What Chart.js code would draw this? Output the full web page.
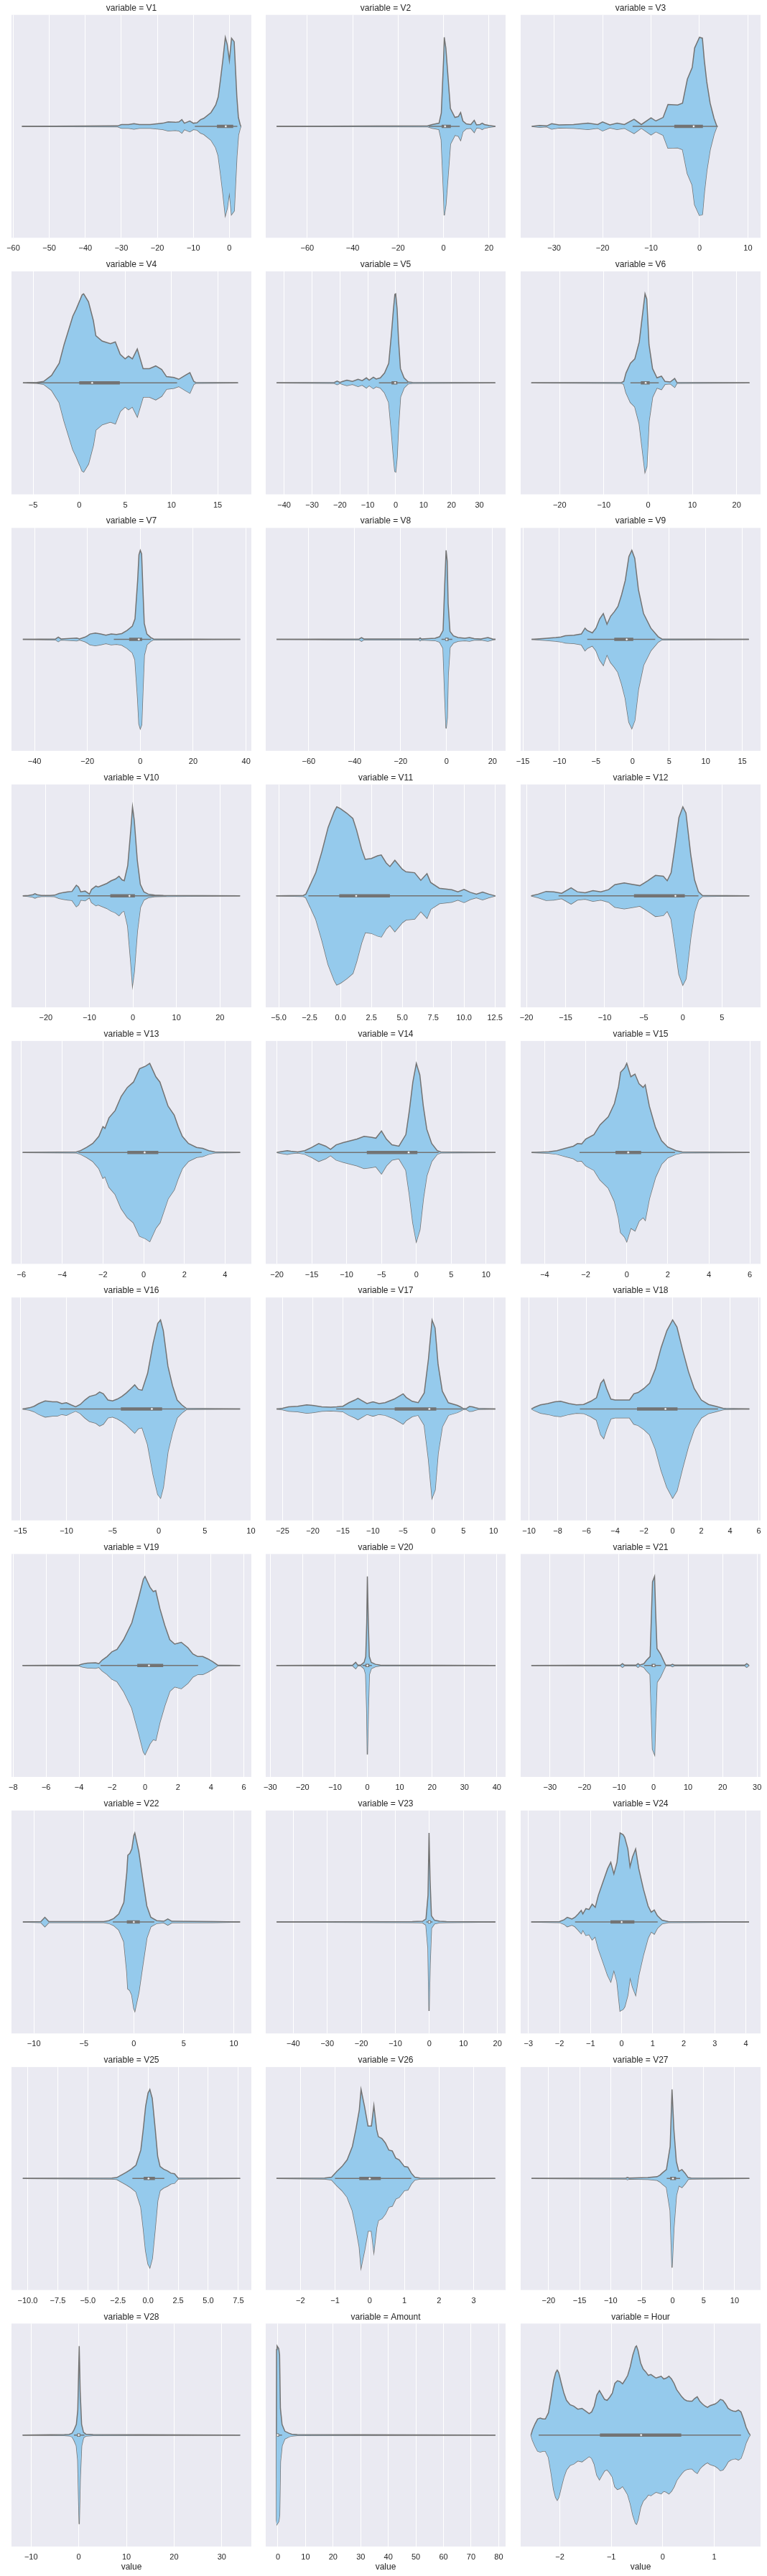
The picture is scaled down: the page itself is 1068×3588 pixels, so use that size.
<!DOCTYPE html>
<html>
<head>
<meta charset="utf-8">
<script src="https://cdn.jsdelivr.net/npm/chart.js@4.4.1/dist/chart.umd.min.js"></script>
<style>
  body { margin: 0; background: #ffffff; width: 1068px; height: 3588px; position: relative; overflow: hidden; }
  canvas { position: absolute; }
</style>
</head>
<body>
<script>
// facet names, one violin per panel
var variables = ["V1", "V2", "V3", "V4", "V5", "V6", "V7", "V8", "V9", "V10",
  "V11", "V12", "V13", "V14", "V15", "V16", "V17", "V18", "V19", "V20",
  "V21", "V22", "V23", "V24", "V25", "V26", "V27", "V28", "Amount", "Hour"];

// x limits of each panel
var axisMin = [-60.5, -78.3, -36.9, -7.34, -46.6, -28.8, -48.7, -78.7, -15.3, -27.9,
  -6.05, -20.75, -6.49, -21.6, -5.17, -15.95, -27.8, -10.58, -8.1, -31.4,
  -38.5, -12.24, -48.1, -3.25, -11.34, -3.0, -24.5, -14.1, -4.42, -2.76];
var axisMax = [6.1, 27.3, 12.6, 18.65, 39.4, 25.4, 42.0, 25.7, 17.5, 27.2,
  13.36, 9.94, 5.29, 12.8, 6.52, 10.04, 12.0, 6.12, 6.45, 42.7,
  31.0, 11.76, 22.4, 4.47, 8.58, 3.92, 14.17, 36.2, 82.5, 1.9];

// tick values of each panel
var tickValues = [
  [-60, -50, -40, -30, -20, -10, 0],
  [-60, -40, -20, 0, 20],
  [-30, -20, -10, 0, 10],
  [-5, 0, 5, 10, 15],
  [-40, -30, -20, -10, 0, 10, 20, 30],
  [-20, -10, 0, 10, 20],
  [-40, -20, 0, 20, 40],
  [-60, -40, -20, 0, 20],
  [-15, -10, -5, 0, 5, 10, 15],
  [-20, -10, 0, 10, 20],
  [-5, -2.5, 0, 2.5, 5, 7.5, 10, 12.5],
  [-20, -15, -10, -5, 0, 5],
  [-6, -4, -2, 0, 2, 4],
  [-20, -15, -10, -5, 0, 5, 10],
  [-4, -2, 0, 2, 4, 6],
  [-15, -10, -5, 0, 5, 10],
  [-25, -20, -15, -10, -5, 0, 5, 10],
  [-10, -8, -6, -4, -2, 0, 2, 4, 6],
  [-8, -6, -4, -2, 0, 2, 4, 6],
  [-30, -20, -10, 0, 10, 20, 30, 40],
  [-30, -20, -10, 0, 10, 20, 30],
  [-10, -5, 0, 5, 10],
  [-40, -30, -20, -10, 0, 10, 20],
  [-3, -2, -1, 0, 1, 2, 3, 4],
  [-10, -7.5, -5, -2.5, 0, 2.5, 5, 7.5],
  [-2, -1, 0, 1, 2, 3],
  [-20, -15, -10, -5, 0, 5, 10],
  [-10, 0, 10, 20, 30],
  [0, 10, 20, 30, 40, 50, 60, 70, 80],
  [-2, -1, 0, 1]
];

// inner box: whiskers, quartiles, median
var whiskerLow = [-9.6, -6.5, -13.8, -5.7, -6, -4, -10, -2.2, -6.2, -12.7,
  -2.6, -15.9, -3.2, -16, -2.3, -10.7, -16.1, -6.46, -2.7, -1.5,
  -2.7, -2.1, -0.9, -1.5, -1.3, -1.0, -0.95, -1, -0.55, -2.41];
var quartile1 = [-3.45, -0.85, -5.2, 0, -1.5, -1.65, -4.2, -0.6, -2.5, -5.2,
  -0.1, -6.25, -0.8, -7.1, -0.55, -4.1, -6.4, -2.48, -0.47, -0.6,
  -0.55, -0.7, -0.4, -0.36, -0.36, -0.3, -0.4, -0.35, -0.3, -1.22];
var medians = [-1.0, 0.65, -1.2, 1.4, -0.2, -0.55, -0.55, 0.05, -0.8, -0.8,
  1.27, -0.95, 0.05, -1.1, 0.07, -0.74, -0.65, -0.5, 0.24, 0,
  0.05, 0, 0, 0, 0.04, 0, 0.05, 0, -0.1, -0.42];
var quartile3 = [1.06, 3.2, 0.7, 4.4, 0.6, 0.35, 0.7, 0.9, 0.1, 0.45,
  4.0, 0.25, 0.72, 0.15, 0.7, 0.37, 0.5, 0.34, 1.1, 0.6,
  0.55, 0.6, 0.4, 0.41, 0.57, 0.32, 0.55, 0.35, 0.4, 0.36];
var whiskerHigh = [2.2, 7.1, 3.8, 10.6, 4.4, 2.4, 4, 2.5, 3.1, 7.7,
  9.85, 2.0, 2.85, 3.2, 2.35, 2.85, 4.8, 3.16, 3.22, 1.4,
  2.2, 2.05, 0.9, 1.16, 1.35, 1.2, 1.2, 1.2, 1.5, 1.52];

// violin half-widths [value, width relative to the widest point]
var densityV1 = [[-57.6, 0], [-31, 0.005], [-30, 0.02], [-28, 0.02], [-26.5, 0.03], [-25, 0.02], [-22, 0.02], [-18.5, 0.035], [-17, 0.05], [-15, 0.045], [-14, 0.05], [-13.2, 0.075], [-12.5, 0.035], [-11, 0.06], [-10, 0.035], [-9, 0.04], [-8, 0.075], [-7.1, 0.09], [-5.1, 0.155], [-3.8, 0.24], [-3.1, 0.33], [-2.46, 0.53], [-1.8, 0.75], [-1.13, 1.0], [-0.6, 0.92], [0, 0.74], [0.6, 0.99], [1.33, 0.95], [2.06, 0.34], [2.5, 0.1], [3.0, 0.02], [3.2, 0]];
var densityV2 = [[-73.5, 0], [-7, 0.005], [-5, 0.02], [-2, 0.035], [-1, 0.15], [0, 0.75], [0.3, 1.0], [1, 0.88], [2.5, 0.37], [3, 0.2], [5, 0.1], [6.5, 0.11], [7.5, 0.155], [8.5, 0.06], [10, 0.027], [12, 0.02], [13.5, 0.067], [14.5, 0.016], [16, 0.02], [17, 0.035], [18, 0.02], [20, 0.01], [22.8, 0]];
var densityV3 = [[-34.6, 0], [-33, 0.01], [-31.5, 0.005], [-30.5, 0.03], [-29, 0.016], [-26, 0.02], [-23, 0.035], [-21, 0.02], [-20, 0.05], [-18.5, 0.016], [-17, 0.035], [-15.5, 0.02], [-13.5, 0.08], [-12, 0.02], [-10, 0.095], [-9, 0.06], [-7.5, 0.1], [-6.5, 0.245], [-4.5, 0.24], [-3.5, 0.26], [-2.5, 0.53], [-1.5, 0.66], [-1, 0.88], [0, 1.0], [0.6, 0.99], [1, 0.74], [1.5, 0.5], [2.2, 0.26], [3, 0.09], [3.6, 0]];
var densityV4 = [[-6.1, 0], [-4.6, 0.005], [-3.86, 0.016], [-3.0, 0.083], [-2.17, 0.22], [-1.64, 0.43], [-0.69, 0.75], [-0.32, 0.83], [0.32, 0.99], [0.48, 1.0], [1.0, 0.91], [1.53, 0.7], [1.8, 0.53], [2.48, 0.47], [3.38, 0.44], [3.91, 0.46], [4.44, 0.32], [4.97, 0.27], [5.34, 0.3], [5.76, 0.27], [6.29, 0.38], [6.92, 0.16], [7.61, 0.16], [8.29, 0.19], [8.93, 0.15], [9.46, 0.07], [10.25, 0.06], [10.78, 0.04], [11.57, 0.09], [11.99, 0.115], [12.41, 0.016], [12.62, 0.005], [17.2, 0]];
var densityV5 = [[-42.7, 0], [-22, 0.005], [-21, 0.02], [-20, 0.005], [-19, 0.016], [-17.5, 0.03], [-15.5, 0.016], [-13.5, 0.04], [-12, 0.025], [-10.5, 0.056], [-9.5, 0.03], [-8, 0.064], [-7, 0.043], [-5.5, 0.056], [-4, 0.11], [-2.5, 0.22], [-1.5, 0.56], [-0.8, 0.83], [-0.3, 0.995], [0, 1.0], [0.5, 0.83], [1, 0.49], [1.7, 0.16], [3, 0.056], [4.5, 0.01], [6, 0.005], [35.7, 0]];
var densityV6 = [[-26.4, 0], [-6, 0.005], [-5.5, 0.016], [-5, 0.11], [-4, 0.22], [-3, 0.27], [-2, 0.46], [-1.5, 0.67], [-0.7, 1.0], [-0.3, 0.94], [0.2, 0.43], [1, 0.16], [2, 0.056], [3, 0.075], [3.8, 0.016], [5, 0.01], [6, 0.05], [6.5, 0.005], [22.9, 0]];
var densityV7 = [[-44.4, 0], [-32, 0.005], [-31, 0.025], [-30, 0.005], [-24, 0.015], [-23, 0.005], [-21, 0.024], [-20, 0.04], [-19, 0.06], [-17, 0.07], [-15, 0.06], [-13, 0.046], [-11, 0.06], [-9, 0.054], [-7, 0.065], [-5, 0.1], [-3, 0.15], [-2, 0.23], [-1, 0.66], [-0.5, 0.95], [0, 1.0], [0.5, 0.96], [1, 0.56], [1.5, 0.18], [2.5, 0.06], [4, 0.02], [5, 0.005], [37.8, 0]];
var densityV8 = [[-74, 0], [-38, 0.005], [-37, 0.02], [-36, 0.005], [-12, 0.005], [-11.5, 0.016], [-11, 0.005], [-5, 0.013], [-3, 0.03], [-1.5, 0.1], [-0.8, 0.61], [-0.2, 1.0], [0.3, 0.88], [0.7, 0.4], [1.5, 0.09], [3, 0.04], [5, 0.02], [8, 0.013], [10, 0.02], [12, 0.008], [15, 0.005], [18, 0.02], [20, 0.005], [21.3, 0]];
var densityV9 = [[-13.8, 0], [-12, 0.01], [-10.5, 0.02], [-9.8, 0.027], [-9.2, 0.04], [-8, 0.046], [-7, 0.06], [-6.5, 0.126], [-6.2, 0.1], [-5.5, 0.073], [-5, 0.126], [-4.5, 0.23], [-4, 0.29], [-3.5, 0.17], [-3, 0.26], [-2.5, 0.31], [-2, 0.37], [-1.5, 0.5], [-1, 0.66], [-0.5, 0.93], [-0.1, 1.0], [0.3, 0.91], [0.8, 0.56], [1.5, 0.29], [2.5, 0.126], [3.5, 0.03], [4, 0.005], [15.9, 0]];
var densityV10 = [[-25.3, 0], [-24, 0.005], [-23, 0.013], [-22.5, 0.024], [-22, 0.013], [-21, 0.005], [-19, 0.005], [-18, 0.008], [-17, 0.027], [-16, 0.038], [-15, 0.046], [-14, 0.05], [-13, 0.12], [-12.5, 0.1], [-12, 0.046], [-11, 0.054], [-10, 0.02], [-9.5, 0.073], [-8.5, 0.11], [-8, 0.1], [-7, 0.12], [-6, 0.14], [-5, 0.17], [-4, 0.19], [-3.2, 0.22], [-2.5, 0.18], [-2, 0.17], [-1.2, 0.34], [-0.5, 0.74], [-0.1, 1.0], [0.3, 0.85], [1, 0.4], [1.7, 0.13], [2.5, 0.046], [3.5, 0.02], [5, 0.008], [7, 0.005], [24.6, 0]];
var densityV11 = [[-5.2, 0], [-3, 0.005], [-2.8, 0.02], [-2, 0.26], [-1.5, 0.5], [-1, 0.77], [-0.5, 0.95], [-0.3, 1.0], [0, 0.98], [0.5, 0.93], [1, 0.87], [1.3, 0.74], [1.7, 0.53], [2, 0.41], [2.5, 0.42], [3, 0.45], [3.3, 0.46], [3.7, 0.37], [4, 0.33], [4.4, 0.4], [5, 0.3], [5.3, 0.27], [6, 0.26], [6.5, 0.175], [7, 0.25], [7.3, 0.15], [8, 0.086], [9, 0.07], [9.5, 0.046], [10, 0.073], [10.5, 0.04], [11, 0.02], [11.5, 0.043], [12, 0.02], [12.53, 0]];
var densityV12 = [[-19.4, 0], [-18.5, 0.02], [-17.5, 0.05], [-16.5, 0.046], [-15.5, 0.03], [-14.3, 0.09], [-13.5, 0.046], [-12.5, 0.035], [-11.5, 0.06], [-10.5, 0.046], [-9.5, 0.07], [-8.7, 0.126], [-7.5, 0.145], [-6.5, 0.13], [-5.5, 0.115], [-4.5, 0.17], [-3.5, 0.23], [-2.5, 0.22], [-2, 0.17], [-1.5, 0.26], [-1, 0.56], [-0.5, 0.88], [0, 1.0], [0.4, 0.93], [1, 0.47], [1.5, 0.18], [2, 0.046], [2.5, 0.005], [8.5, 0]];
var densityV13 = [[-5.94, 0], [-3.3, 0.005], [-3.1, 0.02], [-2.8, 0.056], [-2.5, 0.1], [-2.2, 0.18], [-2, 0.29], [-1.9, 0.27], [-1.7, 0.39], [-1.4, 0.47], [-1.1, 0.63], [-0.8, 0.73], [-0.5, 0.79], [-0.2, 0.94], [0.1, 0.97], [0.3, 1.0], [0.6, 0.85], [0.8, 0.79], [1.2, 0.52], [1.5, 0.42], [1.7, 0.29], [1.9, 0.18], [2.2, 0.1], [2.6, 0.056], [2.9, 0.046], [3.2, 0.02], [3.5, 0.005], [4.74, 0]];
var densityV14 = [[-20, 0], [-19.5, 0.008], [-18.5, 0.02], [-18, 0.013], [-17, 0.005], [-16, 0.02], [-15, 0.056], [-14, 0.1], [-13, 0.07], [-12.3, 0.035], [-11.5, 0.085], [-10.5, 0.11], [-9.5, 0.13], [-8.5, 0.15], [-7.5, 0.18], [-6.5, 0.17], [-5.8, 0.16], [-5, 0.24], [-4.3, 0.15], [-3.5, 0.085], [-2.5, 0.07], [-1.5, 0.2], [-1, 0.47], [-0.5, 0.79], [0, 1.0], [0.5, 0.87], [1, 0.52], [1.5, 0.26], [2.2, 0.1], [3, 0.02], [3.5, 0.005], [11.35, 0]];
var densityV15 = [[-4.64, 0], [-3.8, 0.008], [-3.4, 0.02], [-3, 0.046], [-2.6, 0.07], [-2.4, 0.1], [-2.2, 0.095], [-2, 0.15], [-1.6, 0.2], [-1.3, 0.31], [-0.9, 0.4], [-0.6, 0.55], [-0.4, 0.74], [-0.3, 0.9], [-0.1, 0.95], [0, 1.0], [0.2, 0.85], [0.4, 0.88], [0.6, 0.77], [0.8, 0.73], [0.9, 0.76], [1.1, 0.52], [1.4, 0.28], [1.7, 0.13], [2, 0.06], [2.4, 0.02], [2.7, 0.005], [5.98, 0]];
var densityV16 = [[-14.74, 0], [-14, 0.013], [-13.5, 0.03], [-13, 0.06], [-12.3, 0.09], [-11.5, 0.08], [-11, 0.08], [-10.5, 0.06], [-10, 0.07], [-9.5, 0.046], [-9, 0.024], [-8.5, 0.05], [-8, 0.1], [-7.5, 0.14], [-6.8, 0.16], [-6.4, 0.19], [-6, 0.17], [-5.5, 0.1], [-5, 0.09], [-4.5, 0.11], [-4, 0.14], [-3.5, 0.18], [-3, 0.23], [-2.6, 0.27], [-2.2, 0.22], [-1.8, 0.21], [-1.2, 0.4], [-0.6, 0.74], [-0.1, 0.96], [0.2, 1.0], [0.5, 0.88], [1, 0.48], [1.5, 0.26], [2, 0.1], [2.5, 0.046], [3, 0.005], [8.82, 0]];
var densityV17 = [[-26, 0], [-25, 0.008], [-24, 0.024], [-22.5, 0.03], [-21, 0.046], [-20, 0.04], [-18.5, 0.024], [-17, 0.02], [-16, 0.024], [-15, 0.03], [-14, 0.07], [-13, 0.1], [-12.5, 0.12], [-12, 0.1], [-11, 0.06], [-10, 0.08], [-9, 0.06], [-8, 0.07], [-6.5, 0.11], [-5, 0.17], [-4.5, 0.13], [-3.5, 0.086], [-2.5, 0.07], [-1.5, 0.18], [-0.8, 0.56], [-0.2, 1.0], [0.3, 0.91], [0.8, 0.5], [1.5, 0.2], [2.5, 0.07], [3.5, 0.05], [4, 0.04], [4.5, 0.024], [5, 0.003], [5.5, 0.005], [6, 0.027], [6.5, 0.024], [7, 0.013], [7.5, 0.005], [10.3, 0]];
var densityV18 = [[-9.83, 0], [-9.6, 0.02], [-9.2, 0.046], [-8.7, 0.06], [-8.2, 0.08], [-7.8, 0.086], [-7.2, 0.06], [-6.7, 0.046], [-6.2, 0.05], [-5.7, 0.086], [-5.3, 0.126], [-5, 0.29], [-4.8, 0.33], [-4.6, 0.23], [-4.3, 0.11], [-4, 0.1], [-3.5, 0.1], [-3, 0.1], [-2.7, 0.17], [-2.4, 0.185], [-2, 0.23], [-1.6, 0.29], [-1.2, 0.45], [-0.8, 0.69], [-0.4, 0.88], [0, 1.0], [0.3, 0.92], [0.7, 0.66], [1.1, 0.42], [1.5, 0.23], [2, 0.1], [2.5, 0.05], [3, 0.03], [3.5, 0.008], [3.7, 0.005], [5.34, 0]];
var densityV19 = [[-7.43, 0], [-4, 0.005], [-3.8, 0.016], [-3.5, 0.027], [-3, 0.03], [-2.8, 0.02], [-2.6, 0.06], [-2.3, 0.1], [-2, 0.155], [-1.7, 0.18], [-1.3, 0.29], [-0.8, 0.48], [-0.4, 0.75], [-0.1, 0.97], [0, 1.0], [0.3, 0.88], [0.5, 0.83], [0.65, 0.84], [0.9, 0.64], [1.2, 0.45], [1.5, 0.29], [1.8, 0.24], [2.2, 0.26], [2.6, 0.2], [2.9, 0.13], [3.2, 0.1], [3.5, 0.1], [3.8, 0.075], [4.1, 0.043], [4.4, 0.005], [5.77, 0]];
var densityV20 = [[-28.1, 0], [-4.5, 0.005], [-3.6, 0.035], [-3, 0.005], [-2, 0.005], [-1, 0.035], [-0.5, 0.1], [-0.2, 0.48], [0, 1.0], [0.3, 0.48], [0.6, 0.1], [1.2, 0.035], [2.5, 0.013], [4, 0.005], [39.6, 0]];
var densityV21 = [[-35.4, 0], [-9.5, 0.005], [-9, 0.02], [-8.5, 0.005], [-5, 0.005], [-4.5, 0.02], [-4, 0.005], [-2.8, 0.02], [-2, 0.06], [-1, 0.1], [-0.3, 0.94], [0, 0.97], [0.3, 1.0], [0.6, 0.61], [1, 0.19], [2, 0.13], [3, 0.046], [3.5, 0.005], [5, 0.005], [5.5, 0.013], [6, 0.005], [26.5, 0.005], [27, 0.02], [27.7, 0]];
var densityV22 = [[-11.1, 0], [-9.3, 0.005], [-8.9, 0.053], [-8.5, 0.005], [-3, 0.005], [-2.5, 0.015], [-2, 0.04], [-1.5, 0.09], [-1, 0.22], [-0.7, 0.56], [-0.6, 0.75], [-0.4, 0.77], [-0.2, 0.82], [0, 0.97], [0.1, 1.0], [0.5, 0.79], [0.9, 0.48], [1.3, 0.18], [1.7, 0.053], [2.3, 0.015], [3, 0.008], [3.4, 0.034], [3.8, 0.008], [8, 0.005], [10.63, 0]];
var densityV23 = [[-44.9, 0], [-5, 0.005], [-2, 0.008], [-1, 0.034], [-0.4, 0.3], [-0.1, 1.0], [0.2, 0.48], [0.6, 0.07], [1.5, 0.02], [3, 0.008], [5, 0.005], [19.4, 0]];
var densityV24 = [[-2.91, 0], [-2, 0.005], [-1.85, 0.026], [-1.75, 0.053], [-1.6, 0.034], [-1.5, 0.053], [-1.4, 0.09], [-1.3, 0.13], [-1.25, 0.09], [-1.15, 0.15], [-1.05, 0.14], [-0.95, 0.2], [-0.85, 0.165], [-0.75, 0.3], [-0.6, 0.45], [-0.45, 0.6], [-0.35, 0.67], [-0.25, 0.54], [-0.15, 0.67], [-0.05, 1.0], [0.05, 0.98], [0.1, 0.95], [0.2, 0.82], [0.27, 0.62], [0.35, 0.73], [0.45, 0.82], [0.55, 0.6], [0.7, 0.37], [0.85, 0.18], [0.95, 0.11], [1.05, 0.135], [1.15, 0.07], [1.3, 0.02], [1.5, 0.005], [4.1, 0]];
var densityV25 = [[-10.4, 0], [-3, 0.005], [-2.6, 0.01], [-2.2, 0.04], [-1.8, 0.07], [-1.4, 0.105], [-1, 0.15], [-0.6, 0.32], [-0.4, 0.55], [-0.2, 0.81], [0, 0.96], [0.15, 1.0], [0.35, 0.9], [0.6, 0.55], [0.8, 0.25], [1, 0.135], [1.3, 0.105], [1.6, 0.086], [1.9, 0.06], [2.2, 0.053], [2.5, 0.005], [7.65, 0]];
var densityV26 = [[-2.69, 0], [-1.3, 0.005], [-1.1, 0.015], [-0.95, 0.08], [-0.8, 0.135], [-0.65, 0.21], [-0.5, 0.36], [-0.4, 0.55], [-0.3, 0.77], [-0.25, 1.0], [-0.15, 0.81], [-0.05, 0.59], [0.05, 0.59], [0.12, 0.82], [0.2, 0.55], [0.25, 0.47], [0.35, 0.45], [0.45, 0.4], [0.55, 0.32], [0.65, 0.31], [0.75, 0.23], [0.85, 0.21], [1.0, 0.135], [1.1, 0.128], [1.2, 0.06], [1.3, 0.015], [1.45, 0.005], [3.62, 0]];
var densityV27 = [[-22.75, 0], [-7.5, 0.005], [-7.3, 0.013], [-7, 0.005], [-4, 0.01], [-2.5, 0.02], [-2, 0.04], [-1.7, 0.06], [-1, 0.1], [-0.4, 0.36], [-0.1, 1.0], [0.2, 0.55], [0.6, 0.19], [1, 0.08], [1.5, 0.1], [2, 0.06], [2.5, 0.01], [3, 0.005], [12.36, 0]];
var densityV28 = [[-11.76, 0], [-3, 0.005], [-2, 0.008], [-1.4, 0.02], [-1, 0.056], [-0.5, 0.12], [-0.2, 0.28], [0.1, 1.0], [0.3, 0.5], [0.6, 0.12], [1, 0.03], [1.5, 0.01], [3, 0.005], [33.85, 0]];
var densityAmount = [[-0.55, 0], [-0.5, 0.96], [-0.3, 1.0], [0.3, 0.97], [0.6, 0.9], [0.9, 0.3], [1.5, 0.12], [2.5, 0.043], [4, 0.02], [5, 0.01], [7, 0.005], [78.8, 0]];
var densityHour = [[-2.56, 0], [-2.53, 0.06], [-2.48, 0.126], [-2.43, 0.18], [-2.38, 0.19], [-2.33, 0.18], [-2.28, 0.18], [-2.22, 0.25], [-2.17, 0.42], [-2.12, 0.61], [-2.08, 0.7], [-2.05, 0.73], [-2.02, 0.7], [-1.97, 0.58], [-1.92, 0.47], [-1.87, 0.39], [-1.8, 0.34], [-1.73, 0.325], [-1.65, 0.29], [-1.57, 0.3], [-1.5, 0.27], [-1.43, 0.24], [-1.38, 0.26], [-1.33, 0.326], [-1.28, 0.45], [-1.23, 0.5], [-1.18, 0.45], [-1.13, 0.4], [-1.08, 0.39], [-1.03, 0.425], [-0.98, 0.47], [-0.93, 0.58], [-0.88, 0.61], [-0.83, 0.6], [-0.78, 0.575], [-0.73, 0.62], [-0.68, 0.67], [-0.63, 0.77], [-0.58, 0.9], [-0.53, 0.99], [-0.51, 1.0], [-0.48, 0.95], [-0.43, 0.81], [-0.38, 0.74], [-0.33, 0.71], [-0.28, 0.67], [-0.23, 0.68], [-0.18, 0.66], [-0.13, 0.64], [-0.08, 0.65], [-0.03, 0.66], [0.02, 0.63], [0.07, 0.64], [0.12, 0.66], [0.17, 0.63], [0.22, 0.58], [0.27, 0.51], [0.32, 0.47], [0.37, 0.43], [0.42, 0.4], [0.47, 0.385], [0.52, 0.38], [0.57, 0.38], [0.62, 0.41], [0.67, 0.43], [0.72, 0.38], [0.77, 0.35], [0.82, 0.326], [0.87, 0.31], [0.92, 0.33], [0.97, 0.34], [1.02, 0.35], [1.07, 0.37], [1.12, 0.4], [1.17, 0.39], [1.22, 0.35], [1.27, 0.3], [1.32, 0.28], [1.37, 0.27], [1.42, 0.265], [1.47, 0.28], [1.52, 0.26], [1.57, 0.18], [1.62, 0.086], [1.67, 0.024], [1.7, 0]];

var densities = [densityV1, densityV2, densityV3, densityV4, densityV5, densityV6, densityV7, densityV8, densityV9, densityV10,
  densityV11, densityV12, densityV13, densityV14, densityV15, densityV16, densityV17, densityV18, densityV19, densityV20,
  densityV21, densityV22, densityV23, densityV24, densityV25, densityV26, densityV27, densityV28, densityAmount, densityHour];

var fillColor = "#95caec";
var lineColor = "#737373";
var textColor = "#262626";
var fontFamily = "'Liberation Sans', Arial, sans-serif";

// panel geometry
var colLeft = [16, 370, 725];
var plotW = 334;
var plotH = 310.5;
var firstTop = 20.7;
var rowStep = 357.3;
var sidePad = 24;
var titleH = 12 * 1.2 + 2;
var tickPad = 8.5;
var axisH = 11 * 1.2 + 2 * tickPad;
var xTitleH = 12 * 1.2 - 9;
var widest = 1.252;

var panelBackground = {
  id: "panelBackground",
  beforeDraw: function (chart) {
    var a = chart.chartArea;
    var ctx = chart.ctx;
    ctx.save();
    ctx.fillStyle = "#eaeaf2";
    ctx.fillRect(a.left, a.top, a.right - a.left, a.bottom - a.top);
    ctx.restore();
  }
};

function fmtTick(v, dec) {
  return (v < 0 ? "\u2212" : "") + Math.abs(v).toFixed(dec);
}

variables.forEach(function (name, i) {
  var row = Math.floor(i / 3);
  var col = i % 3;
  var lastRow = row === 9;
  var plotTop = firstTop + rowStep * row;
  var top = Math.floor(plotTop - titleH - 2);
  var padTop = plotTop - top - titleH;
  var bottomH = axisH + (lastRow ? xTitleH : 0);
  var height = Math.ceil(padTop + titleH + plotH + bottomH + 1);
  var padBottom = height - padTop - titleH - plotH - bottomH;
  var width = plotW + 2 * sidePad;

  var canvas = document.createElement("canvas");
  canvas.width = width;
  canvas.height = height;
  canvas.style.left = (colLeft[col] - sidePad) + "px";
  canvas.style.top = top + "px";
  canvas.style.width = width + "px";
  canvas.style.height = height + "px";
  document.body.appendChild(canvas);

  var ticks = tickValues[i];
  var dec = ticks.some(function (t) { return t % 1 !== 0; }) ? 1 : 0;
  var upper = densities[i].map(function (p) { return { x: p[0], y: p[1] }; });
  var lower = densities[i].map(function (p) { return { x: p[0], y: -p[1] }; });

  new Chart(canvas, {
    type: "line",
    data: {
      datasets: [
        { data: upper, borderColor: lineColor, borderWidth: 1.5, backgroundColor: fillColor,
          fill: "+1", pointRadius: 0, tension: 0, order: 3 },
        { data: lower, borderColor: lineColor, borderWidth: 1.5, backgroundColor: fillColor,
          fill: false, pointRadius: 0, tension: 0, order: 4 },
        { data: [{ x: whiskerLow[i], y: 0 }, { x: whiskerHigh[i], y: 0 }], borderColor: lineColor,
          borderWidth: 1.5, pointRadius: 0, fill: false, order: 2 },
        { data: [{ x: quartile1[i], y: 0 }, { x: quartile3[i], y: 0 }], borderColor: lineColor,
          borderWidth: 4.5, borderCapStyle: "butt", pointRadius: 0, fill: false, order: 1 },
        { data: [{ x: medians[i], y: 0 }], showLine: false, pointRadius: 1.6,
          pointBackgroundColor: "#ffffff", pointBorderColor: lineColor, pointBorderWidth: 0.6, order: 0 }
      ]
    },
    options: {
      responsive: false,
      animation: false,
      events: [],
      layout: { padding: { left: sidePad, right: sidePad, top: padTop, bottom: padBottom } },
      plugins: {
        legend: { display: false },
        tooltip: { enabled: false },
        title: {
          display: true,
          text: "variable = " + name,
          color: textColor,
          font: { family: fontFamily, size: 12, weight: "normal" },
          padding: { top: 0, bottom: 2 }
        }
      },
      scales: {
        x: {
          type: "linear",
          min: axisMin[i],
          max: axisMax[i],
          afterBuildTicks: function (scale) {
            scale.ticks = ticks.map(function (v) { return { value: v }; });
          },
          grid: { color: "#ffffff", lineWidth: 1, drawTicks: false },
          border: { display: false },
          ticks: {
            color: textColor,
            padding: tickPad,
            autoSkip: false,
            maxRotation: 0,
            font: { family: fontFamily, size: 11 },
            callback: function (v) { return fmtTick(v, dec); }
          },
          title: {
            display: lastRow,
            text: "value",
            color: textColor,
            font: { family: fontFamily, size: 12 },
            padding: { top: -9, bottom: 0 }
          }
        },
        y: { type: "linear", display: false, min: -widest, max: widest }
      }
    },
    plugins: [panelBackground]
  });
});
</script>
</body>
</html>
